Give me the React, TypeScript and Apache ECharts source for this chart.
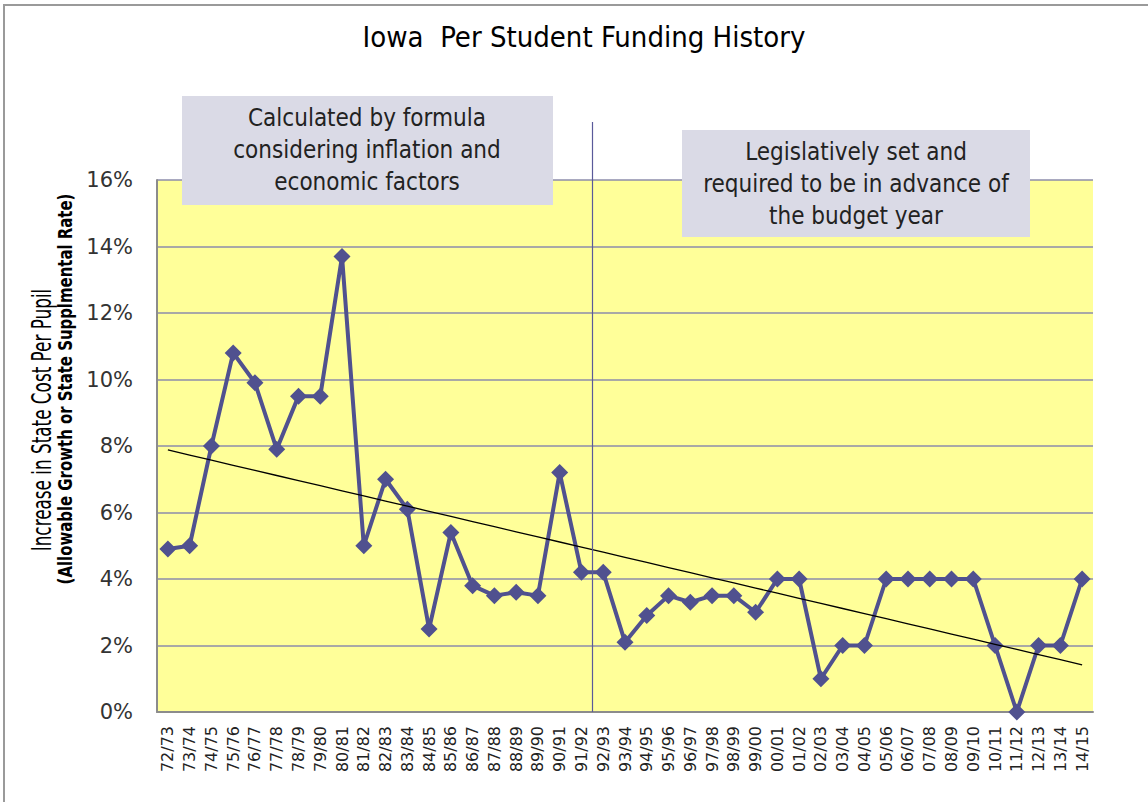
import React, { useEffect, useRef } from "react";
import * as echarts from "echarts";

const categories = [
  "72/73", "73/74", "74/75", "75/76", "76/77", "77/78", "78/79", "79/80", "80/81", "81/82",
  "82/83", "83/84", "84/85", "85/86", "86/87", "87/88", "88/89", "89/90", "90/91", "91/92",
  "92/93", "93/94", "94/95", "95/96", "96/97", "97/98", "98/99", "99/00", "00/01", "01/02",
  "02/03", "03/04", "04/05", "05/06", "06/07", "07/08", "08/09", "09/10", "10/11", "11/12",
  "12/13", "13/14", "14/15",
];

const rates = [
  4.9, 5.0, 8.0, 10.8, 9.9, 7.9, 9.5, 9.5, 13.7, 5.0,
  7.0, 6.1, 2.5, 5.4, 3.8, 3.5, 3.6, 3.5, 7.2, 4.2,
  4.2, 2.1, 2.9, 3.5, 3.3, 3.5, 3.5, 3.0, 4.0, 4.0,
  1.0, 2.0, 2.0, 4.0, 4.0, 4.0, 4.0, 4.0, 2.0, 0.0,
  2.0, 2.0, 4.0,
];

const yMin = 0;
const yMax = 16;
const yStep = 2;

const titleText = "Iowa  Per Student Funding History";
const box1Lines = ["Calculated by formula", "considering inflation and", "economic factors"];
const box2Lines = ["Legislatively set and", "required to be in advance of", "the budget year"];
const yName1 = "Increase in State Cost Per Pupil";
const yName2 = "(Allowable Growth or State Supplmental Rate)";
const splitAfter = "91/92";

function linearTrend(values: number[]): number[] {
  const n = values.length;
  let sx = 0, sy = 0, sxx = 0, sxy = 0;
  values.forEach((v, i) => {
    sx += i; sy += v; sxx += i * i; sxy += i * v;
  });
  const slope = (n * sxy - sx * sy) / (n * sxx - sx * sx);
  const intercept = (sy - slope * sx) / n;
  return values.map((_, i) => +(intercept + slope * i).toFixed(4));
}

const NARROW = '"DejaVu Sans Condensed", "Liberation Sans", sans-serif';
const SERIES_COLOR = "#50518f";
const GRID_COLOR = "#8c8cab";

export default function App() {
  const ref = useRef<HTMLDivElement>(null);

  useEffect(() => {
    if (!ref.current) return;
    const chart = echarts.init(ref.current, null, { renderer: "svg" });
    const trend = linearTrend(rates);

    chart.setOption({
      animation: false,
      backgroundColor: "#ffffff",
      grid: {
        left: 157,
        right: 55,
        top: 180,
        bottom: 90,
        show: true,
        backgroundColor: "#ffff99",
        borderWidth: 0,
      },
      xAxis: {
        type: "category",
        data: categories,
        boundaryGap: true,
        axisLine: { show: true, lineStyle: { color: "#8c8c8c", width: 2 } },
        axisTick: { show: false },
        axisLabel: {
          interval: 0,
          rotate: 90,
          margin: 14,
          fontFamily: "DejaVu Sans",
          fontSize: 16,
          color: "#222",
        },
        splitLine: { show: false },
      },
      yAxis: {
        type: "value",
        min: yMin,
        max: yMax,
        interval: yStep,
        axisLine: { show: true, lineStyle: { color: "#8c8c8c", width: 2 } },
        axisTick: { show: false },
        axisLabel: {
          formatter: "{value}%",
          margin: 24,
          fontFamily: "DejaVu Sans",
          fontSize: 21,
          color: "#333",
        },
        splitLine: { show: true, lineStyle: { color: GRID_COLOR, width: 1.5 } },
      },
      series: [
        {
          name: "Rate",
          type: "line",
          data: rates,
          symbol: "diamond",
          symbolSize: 17,
          lineStyle: { color: SERIES_COLOR, width: 4 },
          itemStyle: { color: SERIES_COLOR },
          z: 3,
        },
        {
          name: "Trend",
          type: "line",
          data: trend,
          symbol: "none",
          lineStyle: { color: "#000000", width: 1.3 },
          z: 4,
        },
      ],
    });

    const i = categories.indexOf(splitAfter);
    const xa = chart.convertToPixel({ xAxisIndex: 0 }, categories[i]) as number;
    const xb = chart.convertToPixel({ xAxisIndex: 0 }, categories[i + 1]) as number;
    const splitX = Math.round((xa + xb) / 2) + 0.5;
    const yBottom = chart.convertToPixel({ yAxisIndex: 0 }, yMin) as number;

    const boxText = (lines: string[], cx: number, top: number) => ({
      type: "text",
      x: cx,
      y: top,
      z: 20,
      style: {
        text: lines.join("\n"),
        align: "center",
        textAlign: "center",
        verticalAlign: "top",
        textVerticalAlign: "top",
        font: `24px ${NARROW}`,
        lineHeight: 32,
        fill: "#222",
      },
    });

    const vText = (text: string, x: number, y: number, font: string, sx: number) => ({
      type: "text",
      x,
      y,
      rotation: Math.PI / 2,
      scaleX: sx,
      z: 20,
      style: {
        text,
        align: "center",
        textAlign: "center",
        verticalAlign: "middle",
        textVerticalAlign: "middle",
        font,
        fill: "#000",
      },
    });

    chart.setOption({
      graphic: [
        {
          type: "rect",
          shape: { x: 4, y: 5, width: 1200, height: 900 },
          style: { fill: "none", stroke: "#9a9a9a", lineWidth: 2 },
          z: 1,
          silent: true,
        },
        {
          type: "line",
          shape: { x1: splitX, y1: 122, x2: splitX, y2: yBottom },
          style: { stroke: "#5a5a9a", lineWidth: 1.2 },
          z: 15,
        },
        {
          type: "rect",
          shape: { x: 182, y: 96, width: 371, height: 109 },
          style: { fill: "#dadae6" },
          z: 18,
        },
        boxText(box1Lines, 367, 102),
        {
          type: "rect",
          shape: { x: 682, y: 130, width: 348, height: 107 },
          style: { fill: "#dadae6" },
          z: 18,
        },
        boxText(box2Lines, 856, 136),
        {
          type: "text",
          x: 584,
          y: 37,
          z: 20,
          style: {
            text: titleText,
            align: "center",
            textAlign: "center",
            verticalAlign: "middle",
            textVerticalAlign: "middle",
            font: `29px ${NARROW}`,
            fill: "#000",
          },
        },
        vText(yName1, 42, 420, `26px ${NARROW}`, 0.72),
        vText(yName2, 65, 389, `bold 20px ${NARROW}`, 0.83),
      ],
    });

    return () => chart.dispose();
  }, []);

  return (
    <div
      ref={ref}
      style={{ position: "fixed", left: 0, top: 0, width: 1148, height: 802 }}
    />
  );
}
